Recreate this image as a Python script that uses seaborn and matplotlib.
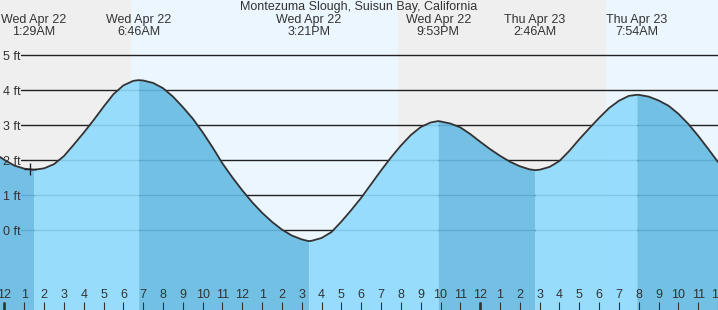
import numpy as np
import pandas as pd
import matplotlib
matplotlib.use("Agg")
import matplotlib.pyplot as plt
import matplotlib.transforms as mtransforms
import seaborn as sns

# ---------------- data (hours since Wed Apr 22 00:00, heights in ft) ----------------
sample_t = [-0.5, 0.0, 0.5, 1.0, 1.5, 2.0, 2.5, 3.0, 3.5, 4.0, 4.5, 5.0, 5.5, 6.0, 6.5,
            7.0, 7.5, 8.0, 8.5, 9.0, 9.5, 10.0, 10.5, 11.0, 11.5, 12.0, 12.5, 13.0, 13.5,
            14.0, 14.5, 15.0, 15.5, 16.0, 16.5, 17.0, 17.5, 18.0, 18.5, 19.0, 19.5, 20.0,
            20.5, 21.0, 21.5, 22.0, 22.5, 23.0, 23.5, 24.0, 24.5, 25.0, 25.5, 26.0, 26.5,
            27.0, 27.5, 28.0, 28.5, 29.0, 29.5, 30.0, 30.5, 31.0, 31.5, 32.0, 32.5, 33.0,
            33.5, 34.0, 34.5, 35.0, 35.5, 36.0]
sample_ft = [2.20, 2.01, 1.85, 1.76, 1.73, 1.77, 1.89, 2.12, 2.45, 2.79, 3.15, 3.53, 3.89,
             4.14, 4.27, 4.28, 4.21, 4.06, 3.82, 3.52, 3.19, 2.80, 2.37, 1.91, 1.51, 1.14,
             0.80, 0.50, 0.24, 0.02, -0.15, -0.26, -0.30, -0.22, -0.05, 0.25, 0.58, 0.93,
             1.32, 1.71, 2.08, 2.42, 2.72, 2.95, 3.08, 3.11, 3.05, 2.94, 2.75, 2.53, 2.32,
             2.13, 1.96, 1.83, 1.74, 1.73, 1.81, 1.98, 2.27, 2.60, 2.91, 3.21, 3.49, 3.70,
             3.84, 3.87, 3.82, 3.71, 3.56, 3.33, 3.04, 2.70, 2.33, 1.95]

extreme_t = [1.483, 6.767, 15.350, 21.883, 26.767, 31.900]
extreme_ft = [1.73, 4.29, -0.31, 3.12, 1.72, 3.87]
extreme_day = ["Wed Apr 22", "Wed Apr 22", "Wed Apr 22", "Wed Apr 22", "Thu Apr 23", "Thu Apr 23"]
extreme_time = ["1:29AM", "6:46AM", "3:21PM", "9:53PM", "2:46AM", "7:54AM"]

sunrise = [6.40, 30.34]
sunset = [19.85]

now_t = 1.28
now_ft = 1.75

y_levels = [0, 1, 2, 3, 4, 5]
y_labels = ["0 ft", "1 ft", "2 ft", "3 ft", "4 ft", "5 ft"]

hour_ticks = list(range(0, 37))
hour_labels = [str((h % 12) or 12) for h in hour_ticks]
midnights = [0, 24]

title = "Montezuma Slough, Suisun Bay, California"

# ---------------- styling ----------------
W, H = 718, 310
X0_PX, PX_PER_H = 4.5, 19.925
Y0_PX, PX_PER_FT = 230.3, 35.0
xlim = (-X0_PX / PX_PER_H, (W - X0_PX) / PX_PER_H)
ylim = ((Y0_PX - H) / PX_PER_FT, Y0_PX / PX_PER_FT)

NIGHT = "#efefef"
DAY = "#ebf6ff"
LIGHT = (141.7 / 255, 218.2 / 255, 252.8 / 255)
DARK = (101.7 / 255, 187.1 / 255, 227.2 / 255)
TXT = "#333333"

sns.set_style("white")
plt.rcParams["font.family"] = ["Liberation Sans", "DejaVu Sans"]
FS = 9

df = pd.DataFrame({"t": sample_t + extreme_t, "ft": sample_ft + extreme_ft})
df = df.sort_values("t").reset_index(drop=True)

fig = plt.figure(figsize=(W / 100, H / 100), dpi=100)
ax = fig.add_axes([0, 0, 1, 1])
ax.set_xlim(*xlim)
ax.set_ylim(*ylim)
for s in ax.spines.values():
    s.set_visible(False)

# day / night background
ax.set_facecolor(NIGHT)
ax.axvspan(sunrise[0], sunset[0], color=DAY, zorder=0, lw=0)
ax.axvspan(sunrise[1], xlim[1] + 1, color=DAY, zorder=0, lw=0)

# grid lines
for lv in y_levels:
    ax.axhline(lv, xmin=21 / W, xmax=1, color="#222222", lw=1.0, zorder=1)

# fills between extremes
bounds = [xlim[0] - 1] + extreme_t + [xlim[1] + 1]
for a, b in zip(bounds[:-1], bounds[1:]):
    seg = df[(df.t >= a) & (df.t <= b)]
    rising = seg.ft.iloc[-1] > seg.ft.iloc[0]
    ax.fill_between(seg.t, seg.ft, ylim[0], color=LIGHT if rising else DARK,
                    alpha=0.9, lw=0, zorder=2)

# tide curve
sns.lineplot(data=df, x="t", y="ft", ax=ax, color="#333333", lw=1.3, zorder=4,
             sort=True, estimator=None)
ax.scatter([now_t], [now_ft], marker="+", s=70, color="#222222", lw=1.0, zorder=5)

# y labels (inside)
ytr = mtransforms.blended_transform_factory(ax.transAxes, ax.transData)
for lv, lb in zip(y_levels, y_labels):
    ax.text(3 / W, lv, lb, transform=ytr, ha="left", va="center_baseline", fontsize=FS,
            color=TXT, zorder=6)

# x ticks (inside, at bottom)
ax.set_xticks(hour_ticks)
ax.set_xticklabels(hour_labels)
ax.set_xticks(midnights, minor=True)
ax.xaxis.remove_overlapping_locs = False
ax.tick_params(axis="x", which="major", direction="in", length=5.8, width=0.8,
               color="#333333", pad=-14.8, labelsize=FS, labelcolor=TXT, bottom=True)
ax.tick_params(axis="x", which="minor", direction="in", length=5.8, width=1.9,
               color="#333333", bottom=True)
ax.set_yticks([])
ax.set_xlabel("")
ax.set_ylabel("")
ax.xaxis.set_zorder(7)

# header texts
xtr = mtransforms.blended_transform_factory(ax.transData, ax.transAxes)
ax.text(0.5, 1 - 7 / H, title, transform=ax.transAxes, ha="center", va="center",
        fontsize=FS, color=TXT)
for t, d, tm in zip(extreme_t, extreme_day, extreme_time):
    ax.text(t, 1 - 20 / H, d, transform=xtr, ha="center", va="center", fontsize=FS, color=TXT)
    ax.text(t, 1 - 32 / H, tm, transform=xtr, ha="center", va="center", fontsize=FS, color=TXT)

fig.savefig("out.png", dpi=100)
